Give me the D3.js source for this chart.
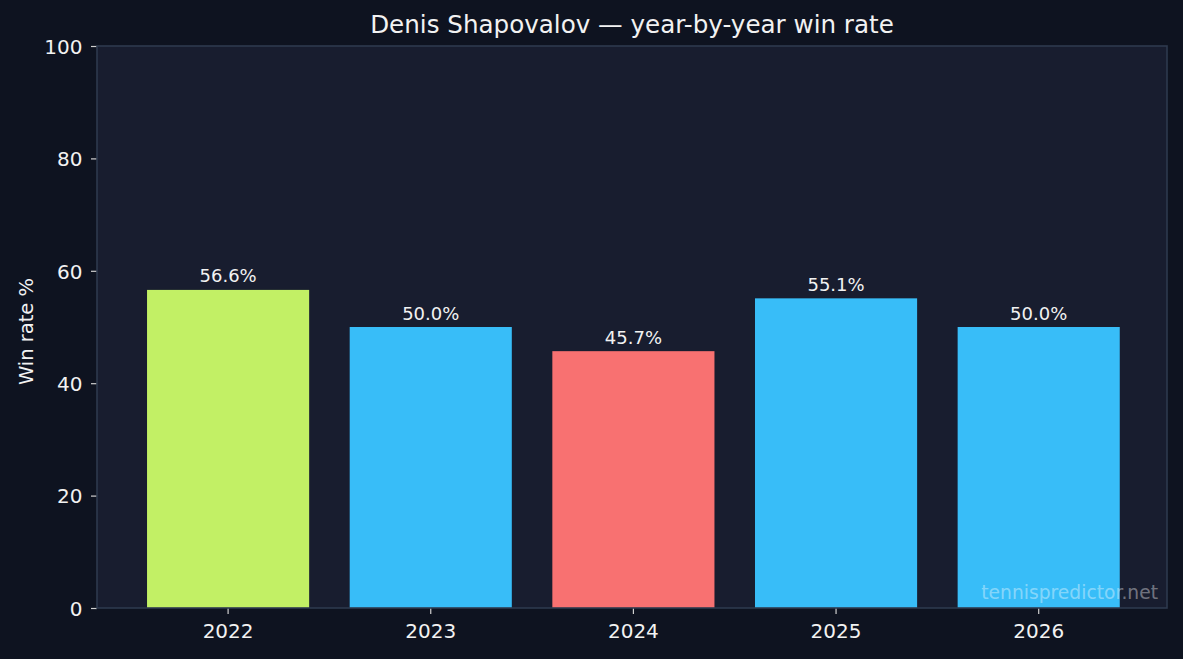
<!DOCTYPE html>
<html lang="en">
<meta charset="utf-8">
<title>Denis Shapovalov — year-by-year win rate</title>
<style>
	html, body {
		margin: 0;
		padding: 0;
		background: #0e1320;
	}
	svg {
		display: block;
		font-family: "DejaVu Sans", sans-serif;
	}
	.tick text {
		fill: #f2f2f2;
		font-family: "DejaVu Sans", sans-serif;
		font-size: 20px;
	}
	.tick line {
		stroke: #d0d0d0;
	}
	.label {
		fill: #f2f2f2;
		font-size: 18px;
	}
</style>
<body>
<script src="https://cdn.jsdelivr.net/npm/d3@7"></script>
<svg class="chart"></svg>
<script>
	var years = ["2022", "2023", "2024", "2025", "2026"];
	var winRates = [56.6, 50.0, 45.7, 55.1, 50.0];
	var barColors = ["#c2f065", "#38bdf8", "#f87171", "#38bdf8", "#38bdf8"];
	var yTicks = [0, 20, 40, 60, 80, 100];

	var W = 1183, H = 659;
	var margin = {top: 46, right: 16, bottom: 51, left: 97},
	    width = W - margin.left - margin.right,
	    height = H - margin.top - margin.bottom;

	var svg = d3.select(".chart")
	    .attr("width", W)
	    .attr("height", H);

	svg.append("rect")
	    .attr("width", W).attr("height", H)
	    .attr("fill", "#0e1320");

	var g = svg.append("g")
	    .attr("transform", "translate(" + margin.left + "," + margin.top + ")");

	// plot background
	g.append("rect")
	    .attr("width", width)
	    .attr("height", height)
	    .attr("fill", "#181d2f");

	// matplotlib-like bar layout: width 0.8, 5% margins
	var x = d3.scaleBand()
	    .domain(years)
	    .range([1.4, width + 1.4])
	    .paddingInner(0.2)
	    .paddingOuter(0.24);

	var y = d3.scaleLinear().domain([0, 100]).range([height, 0]);

	g.selectAll(".bar")
	    .data(years)
	  .enter().append("rect")
	    .attr("class", "bar")
	    .attr("x", function(d) { return x(d); })
	    .attr("width", x.bandwidth())
	    .attr("y", function(d, i) { return y(winRates[i]); })
	    .attr("height", function(d, i) { return height - y(winRates[i]); })
	    .attr("fill", function(d, i) { return barColors[i]; });

	g.selectAll(".label")
	    .data(years)
	  .enter().append("text")
	    .attr("class", "label")
	    .attr("text-anchor", "middle")
	    .attr("x", function(d) { return x(d) + x.bandwidth() / 2; })
	    .attr("y", function(d, i) { return y(winRates[i]) - 7.5; })
	    .text(function(d, i) { return winRates[i].toFixed(1) + "%"; });

	// watermark
	g.append("text")
	    .attr("text-anchor", "end")
	    .attr("x", width - 9)
	    .attr("y", height - 9.5)
	    .attr("fill", "#ffffff")
	    .attr("fill-opacity", 0.4)
	    .style("font-size", "18.7px")
	    .text("tennispredictor.net");

	// axes
	var xAxis = g.append("g")
	    .attr("transform", "translate(0," + height + ")")
	    .call(d3.axisBottom(x).tickSize(6).tickPadding(10));
	xAxis.select(".domain").remove();
	xAxis.selectAll(".tick line").attr("stroke-width", 1.2);

	var yAxis = g.append("g")
	    .call(d3.axisLeft(y).tickValues(yTicks).tickSize(6).tickPadding(8.5));
	yAxis.select(".domain").remove();
	yAxis.selectAll(".tick line").attr("stroke-width", 1.2);
	yAxis.selectAll(".tick text").attr("dy", "0.36em");

	// frame
	g.append("rect")
	    .attr("width", width)
	    .attr("height", height)
	    .attr("fill", "none")
	    .attr("stroke", "#2e3a4e")
	    .attr("stroke-width", 1.6);

	// title
	svg.append("text")
	    .attr("x", margin.left + width / 2)
	    .attr("y", 33.3)
	    .attr("text-anchor", "middle")
	    .attr("fill", "#f2f2f2")
	    .style("font-size", "24.6px")
	    .text("Denis Shapovalov — year-by-year win rate");

	// y label
	svg.append("text")
	    .attr("transform", "translate(33," + 331.5 + ") rotate(-90)")
	    .attr("text-anchor", "middle")
	    .attr("fill", "#f2f2f2")
	    .style("font-size", "19.5px")
	    .text("Win rate %");
</script>
</body>
</html>
